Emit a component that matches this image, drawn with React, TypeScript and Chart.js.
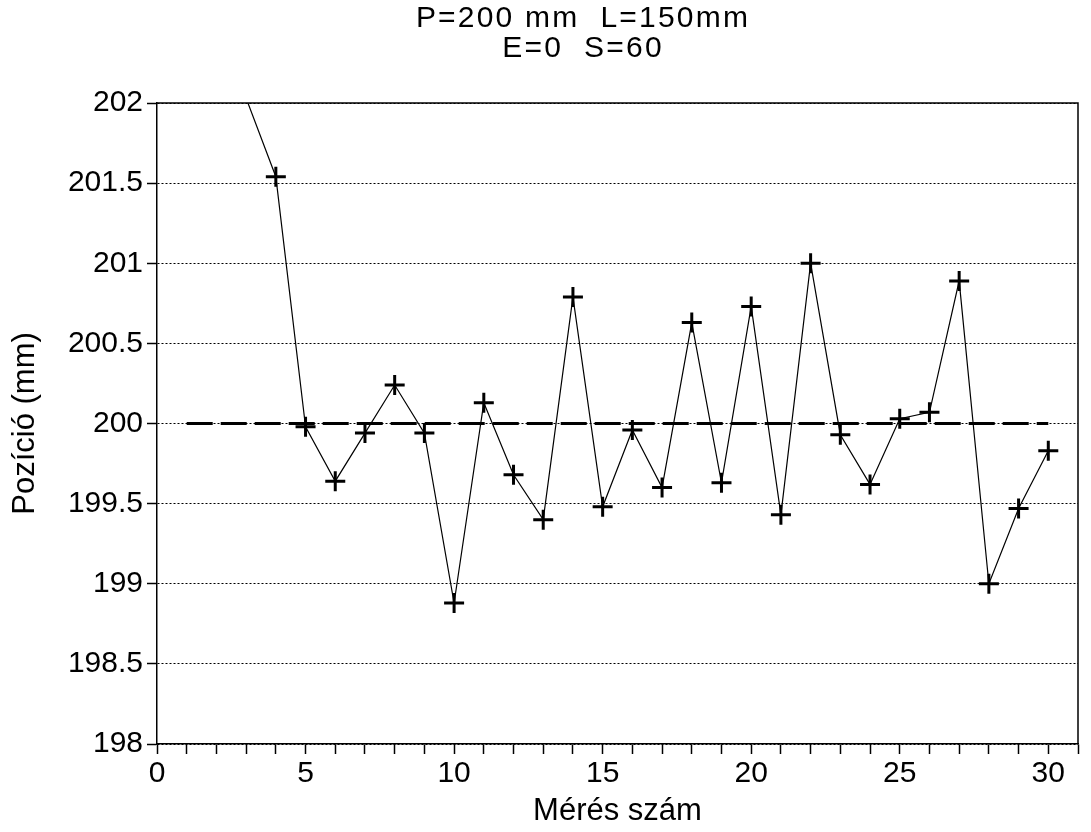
import React, { useEffect, useRef } from "react";
import { Chart, registerables } from "chart.js";

Chart.register(...registerables);

// ---- data ----
const titleLines = ["P=200 mm  L=150mm", "E=0  S=60"];
const xAxisTitle = "Mérés szám";
const yAxisTitle = "Pozíció (mm)";

const measurementNo = [3, 4, 5, 6, 7, 8, 9, 10, 11, 12, 13, 14, 15, 16, 17, 18, 19, 20, 21, 22, 23, 24, 25, 26, 27, 28, 29, 30];
const position = [
  202.03, 201.54, 199.98, 199.64, 199.94, 200.24, 199.94, 198.88, 200.13, 199.68,
  199.4, 200.79, 199.48, 199.96, 199.6, 200.63, 199.63, 200.73, 199.43, 201.0,
  199.93, 199.62, 200.03, 200.07, 200.89, 199.0, 199.47, 199.83,
];

const nominalX = [1, 30];
const nominalY = [200, 200];

const xMin = 0;
const xMax = 31;
const yMin = 198;
const yMax = 202;

const FONT = '"Liberation Sans", Arial, Helvetica, sans-serif';

const framePlugin = {
  id: "frame",
  afterDraw(chart: any) {
    const { ctx, chartArea } = chart;
    ctx.save();
    ctx.strokeStyle = "#000";
    ctx.lineWidth = 1.5;
    ctx.beginPath();
    ctx.moveTo(chartArea.left, chartArea.top);
    ctx.lineTo(chartArea.right, chartArea.top);
    ctx.lineTo(chartArea.right, chartArea.bottom);
    ctx.stroke();
    ctx.restore();
  },
};

const titlePlugin = {
  id: "twoLineTitle",
  afterDraw(chart: any) {
    const { ctx } = chart;
    ctx.save();
    ctx.font = `30px ${FONT}`;
    try {
      (ctx as any).letterSpacing = "2.2px";
    } catch (e) {}
    ctx.fillStyle = "#000";
    ctx.textAlign = "center";
    ctx.textBaseline = "middle";
    titleLines.forEach((t, i) => ctx.fillText(t, 583, 19 + i * 30));
    ctx.restore();
  },
};

export default function App() {
  const ref = useRef<HTMLCanvasElement | null>(null);

  useEffect(() => {
    if (!ref.current) return;
    const chart = new Chart(ref.current, {
      type: "line",
      data: {
        datasets: [
          {
            label: "Pozíció",
            data: measurementNo.map((x, i) => ({ x, y: position[i] })),
            borderColor: "#000",
            backgroundColor: "#000",
            borderWidth: 1.2,
            pointStyle: "cross",
            pointRadius: (c: any) => (c.parsed && c.parsed.y > yMax ? 0 : 10),
            pointBorderWidth: 3,
            pointBorderColor: "#000",
            clip: 0,
            tension: 0,
          } as any,
          {
            label: "Névleges",
            data: nominalX.map((x, i) => ({ x, y: nominalY[i] })),
            borderColor: "#000",
            borderWidth: 3,
            borderDash: [26, 8],
            pointRadius: 0,
            tension: 0,
          },
        ],
      },
      options: {
        responsive: false,
        animation: false,
        layout: { padding: { top: 103, right: 7, left: 0, bottom: 0 } },
        plugins: {
          legend: { display: false },
          tooltip: { enabled: false },
          title: { display: false },
        },
        scales: {
          x: {
            type: "linear",
            min: xMin,
            max: xMax,
            afterFit: (s: any) => {
              s.height = 88;
            },
            ticks: {
              stepSize: 1,
              autoSkip: false,
              maxRotation: 0,
              minRotation: 0,
              padding: 2,
              color: "#000",
              font: { family: FONT, size: 30 },
              callback: (v: any) => (Number(v) % 5 === 0 ? String(v) : ""),
            },
            grid: {
              drawOnChartArea: false,
              drawTicks: true,
              tickLength: 10,
              tickColor: "#000",
              tickWidth: 1.5,
            },
            border: { display: true, color: "#000", width: 1.5 },
            title: {
              display: true,
              text: xAxisTitle,
              color: "#000",
              font: { family: FONT, size: 31 },
              padding: { top: 0, bottom: 2 },
            },
          },
          y: {
            type: "linear",
            min: yMin,
            max: yMax,
            afterFit: (s: any) => {
              s.width = 157;
            },
            ticks: {
              stepSize: 0.5,
              padding: 4,
              color: "#000",
              font: { family: FONT, size: 30 },
              callback: (v: any) => String(v),
            },
            grid: {
              color: "#000",
              lineWidth: 1,
              drawTicks: true,
              tickLength: 10,
              tickColor: "#000",
              tickWidth: 1.5,
            },
            border: { display: true, color: "#000", width: 1.5, dash: [2, 2] },
            title: {
              display: true,
              text: yAxisTitle,
              color: "#000",
              font: { family: FONT, size: 31 },
              padding: { top: 7, bottom: 0 },
            },
          },
        },
      },
      plugins: [framePlugin, titlePlugin],
    });
    return () => chart.destroy();
  }, []);

  return (
    <canvas
      ref={ref}
      width={1091}
      height={832}
      style={{ position: "absolute", left: 0, top: 0, display: "block", background: "#fff" }}
    />
  );
}
